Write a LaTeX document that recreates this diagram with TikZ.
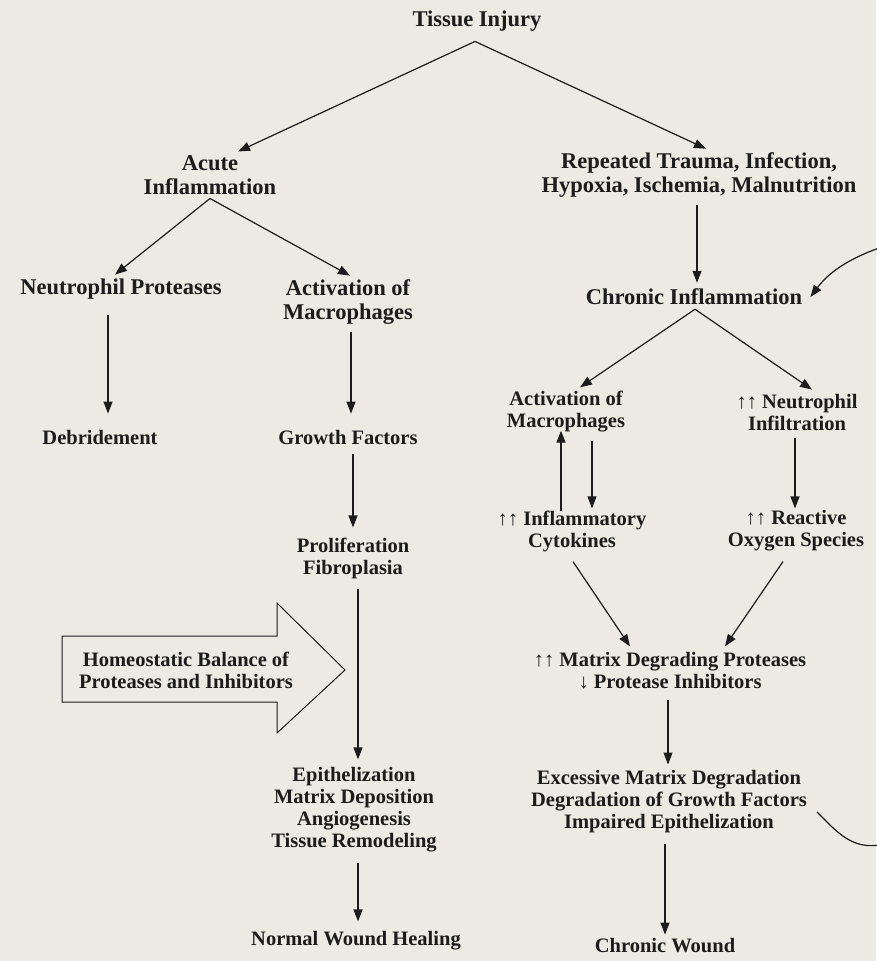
\documentclass[tikz,border=0pt]{standalone}
\usepackage{fontspec}
\setmainfont{Liberation Serif}
\usepackage{xcolor}
\usetikzlibrary{positioning,arrows.meta,calc}
\definecolor{paper}{HTML}{ECEAE2}
\definecolor{ink}{HTML}{1C1C1C}

\begin{document}
\begin{tikzpicture}[
  x=1pt, y=-1pt,
  font=\fontsize{20.5}{22}\selectfont\bfseries,
  lbl/.style={align=center, inner sep=2pt, text=ink},
  biglbl/.style={lbl, font=\fontsize{22.5}{23.5}\selectfont\bfseries},
  arrow/.style={-{Triangle[length=12pt,width=9pt]}, line width=1.2pt, draw=ink}
]
\useasboundingbox[fill=paper] (0,0) rectangle (876,961);

% top of the tree
\node[biglbl] (injury) at (477,21) {Tissue Injury};
\node[biglbl] (acute) at (210,175) {Acute\\Inflammation};
\node[biglbl] (repeated) at (699,175) {Repeated Trauma, Infection,\\Hypoxia, Ischemia, Malnutrition};

% acute branch
\node[biglbl] (neutro) at (121,289) {Neutrophil Proteases};
\node[biglbl] (macroL) at (348,302) {Activation of\\Macrophages};
\node[lbl] (debride) at (100,437) {Debridement};
\node[lbl] (growth) at (348,437) {Growth Factors};
\node[lbl] (prolif) at (353,558) {Proliferation\\Fibroplasia};
\node[lbl] (epith) at (354,810) {Epithelization\\Matrix Deposition\\Angiogenesis\\Tissue Remodeling};
\node[lbl] (normal) at (356,941) {Normal Wound Healing};

% chronic branch
\node[biglbl] (chronic) at (694,297) {Chronic Inflammation};
\node[lbl] (macroR) at (566,412) {Activation of\\Macrophages};
\node[lbl] (infil) at (797,412) {↑↑ Neutrophil\\Infiltration};
\node[lbl] (cyto) at (572,531) {↑↑ Inflammatory\\Cytokines};
\node[lbl] (ros) at (796,531) {↑↑ Reactive\\Oxygen Species};
\node[lbl] (matrix) at (670,671) {↑↑ Matrix Degrading Proteases\\↓ Protease Inhibitors};
\node[lbl] (excess) at (669,802) {Excessive Matrix Degradation\\Degradation of Growth Factors\\Impaired Epithelization};
\node[lbl] (wound) at (665,946) {Chronic Wound};

% big arrow on the left
\node[lbl] (balance) at (186,670) {Homeostatic Balance of\\Proteases and Inhibitors};
\draw[line width=1pt, draw=ink] (62,636) -- (277,636) -- (277,603) -- (345,670)
  -- (277,733) -- (277,702) -- (62,702) -- cycle;

% connectors
\coordinate (top) at ([xshift=-2pt,yshift=-8pt]injury.south);
\draw[arrow] (top) -- ([xshift=28pt,yshift=2pt]acute.north);
\draw[arrow] (top) -- ([xshift=7pt,yshift=2pt]repeated.north);
\draw[arrow] ([yshift=-2pt]acute.south) -- ([xshift=-6pt,yshift=2pt]neutro.north);
\draw[arrow] ([yshift=-2pt]acute.south) -- ([xshift=2pt,yshift=2pt]macroL.north);
\draw[arrow] ([xshift=-2pt,yshift=-6pt]repeated.south) -- ([xshift=3pt,yshift=4pt]chronic.north);
\draw[arrow] ([xshift=1pt,yshift=-2pt]chronic.south) -- ([xshift=14pt,yshift=2pt]macroR.north);
\draw[arrow] ([xshift=1pt,yshift=-2pt]chronic.south) -- ([xshift=15pt,yshift=2pt]infil.north);

\draw[arrow] ([xshift=-13pt,yshift=-14pt]neutro.south) -- ([xshift=8pt,yshift=14pt]debride.north);
\draw[arrow] ([xshift=3pt,yshift=-6pt]macroL.south) -- ([xshift=3pt,yshift=14pt]growth.north);
\draw[arrow] ([xshift=5pt,yshift=-8pt]growth.south) -- ([xshift=0pt,yshift=8pt]prolif.north);
\draw[arrow] ([xshift=5pt,yshift=-8pt]prolif.south) -- ([xshift=4pt,yshift=6pt]epith.north);
\draw[arrow] ([xshift=4pt,yshift=-8pt]epith.south) -- ([xshift=2pt,yshift=8pt]normal.north);

\draw[arrow] ([xshift=-11pt,yshift=-3pt]cyto.north) -- ([xshift=-5pt,yshift=4pt]macroR.south);
\draw[arrow] ([xshift=26pt,yshift=-6pt]macroR.south) -- ([xshift=20pt,yshift=0pt]cyto.north);
\draw[arrow] ([xshift=-2pt,yshift=-6pt]infil.south) -- ([xshift=-1pt,yshift=0pt]ros.north);
\draw[arrow] ([xshift=1pt,yshift=-8pt]cyto.south) -- ([xshift=-40pt,yshift=4pt]matrix.north);
\draw[arrow] ([xshift=-13pt,yshift=-8pt]ros.south) -- ([xshift=55pt,yshift=4pt]matrix.north);
\draw[arrow] ([xshift=-2pt,yshift=-8pt]matrix.south) -- ([xshift=-1pt,yshift=4pt]excess.north);
\draw[arrow] ([xshift=-4pt,yshift=-8pt]excess.south) -- ([xshift=0pt,yshift=2pt]wound.north);

% feedback loop leaving the page on the right
\draw[arrow] ([xshift=8pt,yshift=-10pt]excess.east) .. controls (840,835) and (858,858) .. (900,838)
  -- (905,240) .. controls (860,252) and (832,268) .. ([xshift=6pt]chronic.east);
\end{tikzpicture}
\end{document}
